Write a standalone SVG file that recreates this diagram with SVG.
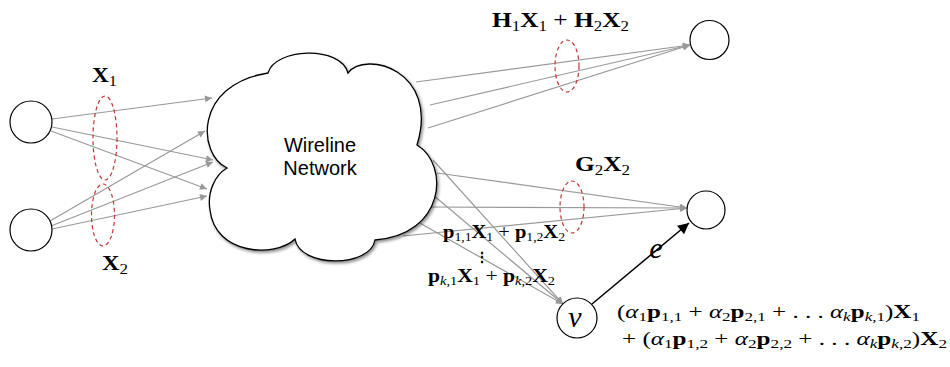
<svg xmlns="http://www.w3.org/2000/svg" width="950" height="367" viewBox="0 0 950 367">
<style>
.node{fill:#fff;stroke:#000;stroke-width:1.2}
.edge{stroke:#999;stroke-width:1.2;fill:none}
.blk{stroke:#000;stroke-width:1.5;fill:none}
.ell{fill:none;stroke:#c0393b;stroke-width:1.2;stroke-dasharray:4 3}
.m{font-family:"Liberation Serif","DejaVu Serif",serif;fill:#000}
.b{font-weight:bold}
.i{font-style:italic}
.sans{font-family:"Liberation Sans",Arial,sans-serif;font-size:20px;fill:#000}
</style>
<defs>
<marker id="ag" viewBox="0 0 10 10" refX="10" refY="5" markerUnits="userSpaceOnUse" markerWidth="10" markerHeight="7" orient="auto"><path d="M0,0 L10,5 L0,10 z" fill="#999"/></marker>
<marker id="ab" viewBox="0 0 10 10" refX="10" refY="5" markerUnits="userSpaceOnUse" markerWidth="15" markerHeight="11" orient="auto"><path d="M0,0 L10,5 L0,10 z" fill="#000"/></marker>
<filter id="sh" x="-10%" y="-10%" width="125%" height="125%"><feDropShadow dx="1.5" dy="2" stdDeviation="1.5" flood-color="#000" flood-opacity="0.45"/></filter>
</defs>

<g id="connectors">
<line class="edge" x1="52" y1="119" x2="212" y2="98" marker-end="url(#ag)"/>
<line class="edge" x1="52" y1="127" x2="213" y2="160" marker-end="url(#ag)"/>
<line class="edge" x1="51" y1="131" x2="207" y2="189" marker-end="url(#ag)"/>
<line class="edge" x1="50" y1="221" x2="205" y2="131" marker-end="url(#ag)"/>
<line class="edge" x1="51" y1="226" x2="213" y2="162" marker-end="url(#ag)"/>
<line class="edge" x1="52" y1="229" x2="207" y2="196" marker-end="url(#ag)"/>
<line class="edge" x1="416" y1="82" x2="690" y2="45" marker-end="url(#ag)"/>
<line class="edge" x1="430" y1="105" x2="690" y2="45" marker-end="url(#ag)"/>
<line class="edge" x1="428" y1="128" x2="690" y2="45" marker-end="url(#ag)"/>
<line class="edge" x1="437" y1="173" x2="687" y2="208" marker-end="url(#ag)"/>
<line class="edge" x1="430" y1="207" x2="687" y2="208" marker-end="url(#ag)"/>
<line class="edge" x1="403" y1="236" x2="687" y2="208" marker-end="url(#ag)"/>
<line class="edge" x1="433" y1="160" x2="563" y2="304" marker-end="url(#ag)"/>
<line class="edge" x1="433" y1="195" x2="563" y2="304" marker-end="url(#ag)"/>
<line class="edge" x1="418" y1="222" x2="563" y2="304" marker-end="url(#ag)"/>
<line class="blk" x1="592" y1="304" x2="689" y2="223" marker-end="url(#ab)"/>
</g>

<g id="cloud">
<path filter="url(#sh)" fill="#fff" stroke="#000" stroke-width="1.3" stroke-linejoin="miter" d="M227,168 C198,155 193,85 268,73 C275,48 340,45 348,73 C365,50 440,70 417,145 C450,165 445,235 375,240 C370,268 300,268 295,239 C275,258 215,255 210,210 C207,192 215,175 227,168 Z"/>
<text class="sans" x="320" y="152" text-anchor="middle">Wireline</text>
<text class="sans" x="320" y="175" text-anchor="middle">Network</text>
</g>

<g id="src1"><circle class="node" cx="31" cy="122" r="21"/></g>
<g id="src2"><circle class="node" cx="31" cy="230" r="21"/></g>
<g id="dst1"><circle class="node" cx="709.5" cy="40" r="19.5"/></g>
<g id="dst2"><circle class="node" cx="706" cy="210" r="19"/></g>
<g id="relay"><circle class="node" cx="577" cy="318" r="20"/>
<text class="m i" x="575" y="327" font-size="30" text-anchor="middle">v</text></g>

<g id="cuts">
<ellipse class="ell" cx="105" cy="138" rx="12" ry="42"/>
<ellipse class="ell" cx="103" cy="215" rx="11.5" ry="31"/>
<ellipse class="ell" cx="567" cy="66" rx="12" ry="26"/>
<ellipse class="ell" cx="572" cy="207" rx="12" ry="26"/>
</g>

<g id="labels">
<text class="m" x="92" y="82" font-size="20" textLength="25" lengthAdjust="spacingAndGlyphs"><tspan class="b">X</tspan><tspan font-size="14" dy="4">1</tspan></text>
<text class="m" x="102" y="270" font-size="20" textLength="26" lengthAdjust="spacingAndGlyphs"><tspan class="b">X</tspan><tspan font-size="14" dy="4">2</tspan></text>
<text class="m" x="492" y="27" font-size="21" textLength="137" lengthAdjust="spacingAndGlyphs"><tspan class="b">H</tspan><tspan font-size="14" dy="4">1</tspan><tspan class="b" dy="-4">X</tspan><tspan font-size="14" dy="4">1</tspan><tspan dy="-4"> + </tspan><tspan class="b">H</tspan><tspan font-size="14" dy="4">2</tspan><tspan class="b" dy="-4">X</tspan><tspan font-size="14" dy="4">2</tspan></text>
<text class="m" x="575" y="171" font-size="21" textLength="55" lengthAdjust="spacingAndGlyphs"><tspan class="b">G</tspan><tspan font-size="14" dy="4">2</tspan><tspan class="b" dy="-4">X</tspan><tspan font-size="14" dy="4">2</tspan></text>
<text class="m" x="443" y="238" font-size="18" textLength="122" lengthAdjust="spacingAndGlyphs"><tspan class="b">p</tspan><tspan font-size="12" dy="3">1,1</tspan><tspan class="b" dy="-3">X</tspan><tspan font-size="12" dy="3">1</tspan><tspan dy="-3"> + </tspan><tspan class="b">p</tspan><tspan font-size="12" dy="3">1,2</tspan><tspan class="b" dy="-3">X</tspan><tspan font-size="12" dy="3">2</tspan></text>
<text class="m b" x="482" y="262" font-size="14" text-anchor="middle">⋮</text>
<text class="m" x="428" y="282" font-size="18" textLength="127" lengthAdjust="spacingAndGlyphs"><tspan class="b">p</tspan><tspan font-size="12" dy="3"><tspan class="i">k</tspan>,1</tspan><tspan class="b" dy="-3">X</tspan><tspan font-size="12" dy="3">1</tspan><tspan dy="-3"> + </tspan><tspan class="b">p</tspan><tspan font-size="12" dy="3"><tspan class="i">k</tspan>,2</tspan><tspan class="b" dy="-3">X</tspan><tspan font-size="12" dy="3">2</tspan></text>
<text class="m i" x="656" y="258" font-size="30" text-anchor="middle">e</text>
<text class="m" x="617" y="318" font-size="19" textLength="303" lengthAdjust="spacingAndGlyphs">(<tspan class="i">α</tspan><tspan font-size="13" dy="3">1</tspan><tspan class="b" dy="-3">p</tspan><tspan font-size="13" dy="3">1,1</tspan><tspan dy="-3"> + </tspan><tspan class="i">α</tspan><tspan font-size="13" dy="3">2</tspan><tspan class="b" dy="-3">p</tspan><tspan font-size="13" dy="3">2,1</tspan><tspan dy="-3"> + . . . </tspan><tspan class="i">α</tspan><tspan font-size="13" dy="3" class="i">k</tspan><tspan class="b" dy="-3">p</tspan><tspan font-size="13" dy="3"><tspan class="i">k</tspan>,1</tspan><tspan dy="-3">)</tspan><tspan class="b">X</tspan><tspan font-size="13" dy="3">1</tspan></text>
<text class="m" x="622" y="345" font-size="19" textLength="325" lengthAdjust="spacingAndGlyphs">+ (<tspan class="i">α</tspan><tspan font-size="13" dy="3">1</tspan><tspan class="b" dy="-3">p</tspan><tspan font-size="13" dy="3">1,2</tspan><tspan dy="-3"> + </tspan><tspan class="i">α</tspan><tspan font-size="13" dy="3">2</tspan><tspan class="b" dy="-3">p</tspan><tspan font-size="13" dy="3">2,2</tspan><tspan dy="-3"> + . . . </tspan><tspan class="i">α</tspan><tspan font-size="13" dy="3" class="i">k</tspan><tspan class="b" dy="-3">p</tspan><tspan font-size="13" dy="3"><tspan class="i">k</tspan>,2</tspan><tspan dy="-3">)</tspan><tspan class="b">X</tspan><tspan font-size="13" dy="3">2</tspan></text>
</g>
</svg>
